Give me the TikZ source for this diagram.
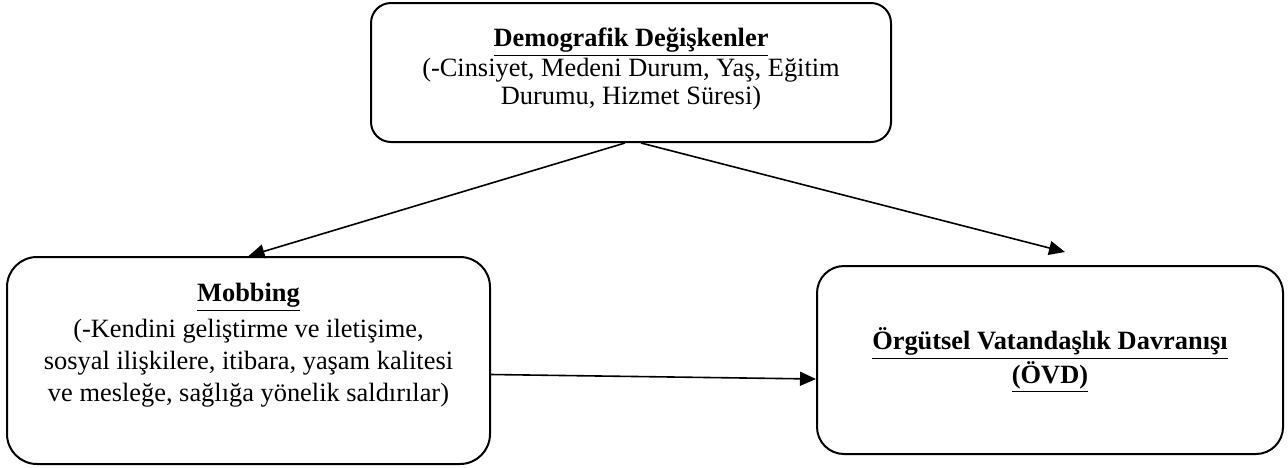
\documentclass[tikz,border=0pt]{standalone}
\usepackage{fontspec}
\setmainfont{Liberation Serif}
\usetikzlibrary{arrows.meta}

\begin{document}
\begin{tikzpicture}[x=0.5pt,y=-0.5pt,
	box/.style={draw,line width=1pt,rounded corners=#1,inner sep=0pt},
	txt/.style={align=center,font=\fontsize{13.2}{#1}\selectfont},
	link/.style={line width=0.8pt,-{Triangle[length=8pt,width=7pt]}}]
	\useasboundingbox (0,0) rectangle (1288,467);
	% boxes
	\node[box=10pt,minimum width=260pt,minimum height=69.5pt] (demo) at (631,72.5) {};
	\node[txt=14pt] (demotxt) at (631,69)
		{\underline{\textbf{Demografik Değişkenler}}\\(-Cinsiyet, Medeni Durum, Yaş, Eğitim\\Durumu, Hizmet Süresi)};
	\node[box=15pt,minimum width=241.5pt,minimum height=103.5pt] (mob) at (248.5,360.5) {};
	\node[txt=16pt] (mobtxt) at (248.5,345)
		{\underline{\textbf{Mobbing}}\\[2pt](-Kendini geliştirme ve iletişime,\\sosyal ilişkilere, itibara, yaşam kalitesi\\ve mesleğe, sağlığa yönelik saldırılar)};
	\node[box=13.5pt,minimum width=233pt,minimum height=94pt,txt=13.5pt] (ovd) at (1050,360)
		{\underline{\textbf{Örgütsel Vatandaşlık Davranışı}}\\\underline{\textbf{(ÖVD)}}};
	\coordinate (ovdtip) at (1065,252);
	% arrows
	\draw[link] ([xshift=-3pt]demo.south) -- (mob.north);
	\draw[link] ([xshift=5pt]demo.south) -- (ovdtip);
	\draw[link] ([yshift=-7pt]mob.east) -- ([yshift=-9.5pt]ovd.west);
\end{tikzpicture}
\end{document}
